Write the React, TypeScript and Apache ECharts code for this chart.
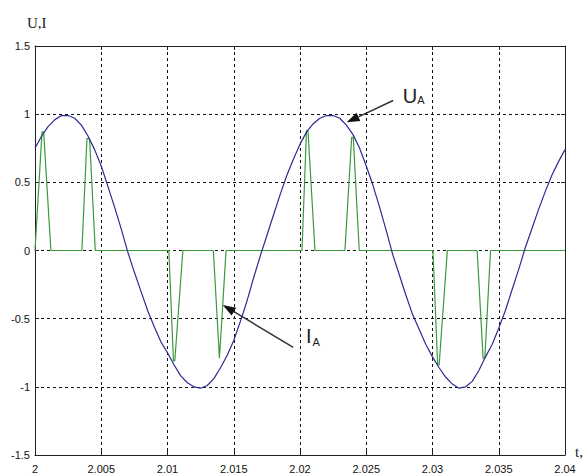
import React, { useEffect, useRef } from "react";
import * as echarts from "echarts";

// Time axis (s) and value axis ticks
const X_MIN = 2;
const X_MAX = 2.04;
const X_INTERVAL = 0.005;
const Y_MIN = -1.5;
const Y_MAX = 1.5;
const Y_INTERVAL = 0.5;

// Voltage U_A, sampled every 0.0005 s from t = 2
const U_T0 = 2;
const U_DT = 0.0005;
const uValues = [
  0.75, 0.84, 0.91, 0.96, 0.99, 0.99, 0.97, 0.92, 0.84, 0.74,
  0.62, 0.47, 0.32, 0.16, -0.01, -0.16, -0.3, -0.44, -0.56, -0.67,
  -0.75, -0.84, -0.92, -0.97, -1.0, -1.01, -0.99, -0.94, -0.86, -0.77,
  -0.66, -0.52, -0.37, -0.2, -0.04, 0.11, 0.26, 0.41, 0.55, 0.67,
  0.78, 0.87, 0.93, 0.97, 0.99, 0.99, 0.97, 0.92, 0.85, 0.75,
  0.62, 0.48, 0.32, 0.15, -0.03, -0.18, -0.33, -0.47, -0.58, -0.69,
  -0.78, -0.86, -0.93, -0.98, -1.01, -1.0, -0.96, -0.88, -0.78, -0.69,
  -0.57, -0.44, -0.29, -0.14, 0.02, 0.16, 0.3, 0.43, 0.55, 0.65,
  0.74,
];

// Current I_A pulses
const iTimes = [
  2.0, 2.00053, 2.00065, 2.0012, 2.00354, 2.00392, 2.00412, 2.00455,
  2.0101, 2.01045, 2.01055, 2.01116, 2.01346, 2.01392, 2.01397, 2.01442,
  2.02015, 2.02049, 2.0206, 2.02113, 2.02339, 2.0239, 2.02402, 2.02447,
  2.03003, 2.03039, 2.0305, 2.03112, 2.03337, 2.03382, 2.03395, 2.03438,
  2.04,
];
const iValues = [
  0, 0.87, 0.87, 0, 0, 0.82, 0.82, 0,
  0, -0.81, -0.81, 0, 0, -0.79, -0.79, 0,
  0, 0.88, 0.88, 0, 0, 0.83, 0.83, 0,
  0, -0.84, -0.84, 0, 0, -0.79, -0.79, 0,
  0,
];

// Annotation anchors in data coordinates
const arrowUA = { tail: [2.02703, 1.1], tip: [2.02352, 0.94] };
const arrowIA = { tail: [2.01949, -0.71], tip: [2.01417, -0.4] };
const labelUA = [2.02775, 1.135];
const labelIA = [2.02045, -0.63];

const SANS = '"Liberation Sans", Arial, sans-serif';
const SERIF = '"Liberation Serif", "Times New Roman", serif';

export default function App() {
  const ref = useRef<HTMLDivElement>(null);

  useEffect(() => {
    if (!ref.current) return;
    const chart = echarts.init(ref.current, undefined, { renderer: "svg" });

    const uData = uValues.map((v, i) => [U_T0 + i * U_DT, v]);
    const iData = iTimes.map((t, i) => [t, iValues[i]]);

    const gridLine = { show: true, lineStyle: { color: "#111", width: 1, type: [3, 3] as any } };
    const axisLine = { show: true, onZero: false, lineStyle: { color: "#222", width: 1 } };
    const tick = { show: true, inside: true, length: 4, lineStyle: { color: "#222" } };

    chart.setOption({
      animation: false,
      backgroundColor: "#fff",
      grid: { left: 35, right: 22, top: 46, bottom: 12, containLabel: false },
      xAxis: [
        {
          type: "value",
          min: X_MIN,
          max: X_MAX,
          interval: X_INTERVAL,
          axisLine,
          axisTick: tick,
          splitLine: gridLine,
          axisLabel: { color: "#111", fontSize: 11, fontFamily: SANS, margin: 8 },
        },
        {
          type: "value",
          position: "top",
          min: X_MIN,
          max: X_MAX,
          interval: X_INTERVAL,
          axisLine,
          axisTick: tick,
          splitLine: { show: false },
          axisLabel: { show: false },
        },
      ],
      yAxis: [
        {
          type: "value",
          min: Y_MIN,
          max: Y_MAX,
          interval: Y_INTERVAL,
          axisLine,
          axisTick: tick,
          splitLine: gridLine,
          axisLabel: { color: "#111", fontSize: 11, fontFamily: SANS, margin: 5 },
        },
        {
          type: "value",
          position: "right",
          min: Y_MIN,
          max: Y_MAX,
          interval: Y_INTERVAL,
          axisLine,
          axisTick: tick,
          splitLine: { show: false },
          axisLabel: { show: false },
        },
      ],
      series: [
        {
          name: "I_A",
          type: "line",
          data: iData,
          showSymbol: false,
          symbol: "none",
          lineStyle: { color: "#3a9a3a", width: 1.2 },
          z: 3,
        },
        {
          name: "U_A",
          type: "line",
          data: uData,
          showSymbol: false,
          symbol: "none",
          lineStyle: { color: "#2b2b95", width: 1.2 },
          z: 4,
        },
      ],
    });

    const px = (pt: number[]) =>
      chart.convertToPixel({ xAxisIndex: 0, yAxisIndex: 0 }, pt) as number[];

    const arrow = (a: { tail: number[]; tip: number[] }) => {
      const tail = px(a.tail);
      const tip = px(a.tip);
      const dx = tip[0] - tail[0];
      const dy = tip[1] - tail[1];
      const L = Math.hypot(dx, dy);
      const ux = dx / L;
      const uy = dy / L;
      const len = 13;
      const w = 4.5;
      const base = [tip[0] - ux * len, tip[1] - uy * len];
      const left = [base[0] - uy * w, base[1] + ux * w];
      const right = [base[0] + uy * w, base[1] - ux * w];
      return [
        {
          type: "line",
          shape: { x1: tail[0], y1: tail[1], x2: base[0], y2: base[1] },
          style: { stroke: "#333", lineWidth: 1.5 },
          z: 10,
        },
        {
          type: "polygon",
          shape: { points: [tip, left, right] },
          style: { fill: "#111" },
          z: 10,
        },
      ];
    };

    const txt = (x: number, y: number, text: string, size: number, family: string) => ({
      type: "text",
      x,
      y,
      z: 10,
      style: {
        text,
        fontSize: size,
        fontFamily: family,
        fill: "#222",
        align: "left",
        textAlign: "left",
        verticalAlign: "middle",
        textVerticalAlign: "middle",
      },
    });

    const pU = px(labelUA);
    const pI = px(labelIA);

    chart.setOption({
      graphic: [
        ...arrow(arrowUA),
        ...arrow(arrowIA),
        txt(pU[0], pU[1], "U", 20, SANS),
        txt(pU[0] + 14.5, pU[1] + 4.5, "A", 11, SANS),
        txt(pI[0], pI[1], "I", 20, SANS),
        txt(pI[0] + 6.5, pI[1] + 5.5, "A", 11, SANS),
        txt(27, 23, "U,I", 15, SERIF),
        txt(575, 452, "t,", 15, SERIF),
      ],
    });

    return () => chart.dispose();
  }, []);

  return (
    <div
      ref={ref}
      style={{ position: "absolute", left: 0, top: 0, width: 587, height: 474, background: "#fff" }}
    />
  );
}
